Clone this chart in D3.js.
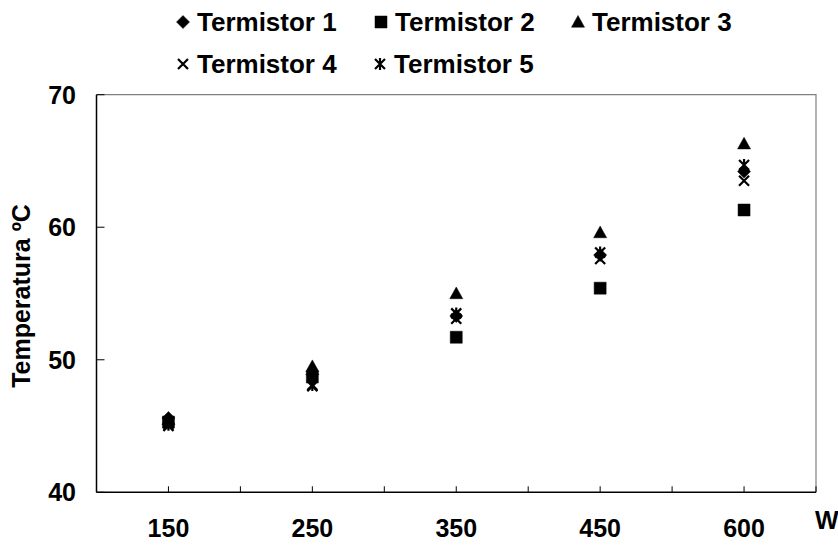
<!DOCTYPE html>
<html>
<head>
<meta charset="utf-8">
<script src="https://cdn.jsdelivr.net/npm/d3@7"></script>
<style>
  body { margin: 0; background: #fff; }
  text { font-family: "Liberation Sans", Arial, sans-serif; font-weight: bold; fill: #000; }
</style>
</head>
<body>
<div id="chart"></div>
<script>
// categories (W) sit on every other minor tick of the axis
var categories = ["150", "250", "350", "450", "600"];
var catPos = [1, 3, 5, 7, 9];
var yTicks = [40, 50, 60, 70];

var termistor1 = [45.6, 48.9, 53.3, 57.9, 64.2];
var termistor2 = [45.3, 48.7, 51.7, 55.4, 61.3];
var termistor3 = [45.5, 49.5, 55.0, 59.6, 66.3];
var termistor4 = [45.0, 48.0, 53.1, 57.6, 63.5];
var termistor5 = [45.1, 48.1, 53.5, 58.1, 64.7];

var seriesNames = ["Termistor 1", "Termistor 2", "Termistor 3", "Termistor 4", "Termistor 5"];
var seriesVals = [termistor1, termistor2, termistor3, termistor4, termistor5];
var seriesMark = ["diamond", "square", "triangle", "times", "asterisk"];

var width = 838, height = 548;
var plotL = 96.5, plotR = 816, plotT = 94.7, plotB = 492.3;

var svg = d3.select("#chart").append("svg")
  .attr("width", width)
  .attr("height", height);

var x = d3.scaleLinear().domain([0, 10]).range([plotL, plotR]);
var y = d3.scaleLinear().domain([40, 70]).range([plotB, plotT]);

function marker(type) {
  var s;
  switch (type) {
    case "diamond":  s = 6.5; return `M0,${-s}L${s},0L0,${s}L${-s},0Z`;
    case "square":   s = 6;   return `M${-s},${-s}H${s}V${s}H${-s}Z`;
    case "triangle": s = 6.5; return `M0,${-s}L${s},${s*0.8}H${-s}Z`;
    case "times":    s = 5;   return `M${-s},${-s}L${s},${s}M${-s},${s}L${s},${-s}`;
    case "asterisk": s = 5;   return `M${-s},${-s}L${s},${s}M${-s},${s}L${s},${-s}M0,${-s-1}V${s+1}`;
  }
}
function isStroke(type) { return type === "times" || type === "asterisk"; }

// plot area border (grey) and axes (black)
svg.append("path")
  .attr("d", `M${plotL},${plotT}H${plotR}V${plotB}`)
  .attr("fill", "none")
  .attr("stroke", "#808080")
  .attr("stroke-width", 1.2);

svg.append("line")
  .attr("x1", plotL).attr("x2", plotL)
  .attr("y1", plotT).attr("y2", plotB)
  .attr("stroke", "#000").attr("stroke-width", 1.5);

svg.append("line")
  .attr("x1", plotL).attr("x2", plotR)
  .attr("y1", plotB).attr("y2", plotB)
  .attr("stroke", "#000").attr("stroke-width", 1.5);

// y ticks, pointing into the plot
svg.selectAll(".ytick")
  .data(yTicks)
  .enter().append("line")
  .attr("x1", plotL).attr("x2", plotL + 8)
  .attr("y1", d => y(d)).attr("y2", d => y(d))
  .attr("stroke", "#000").attr("stroke-width", 1);

svg.selectAll(".ylab")
  .data(yTicks)
  .enter().append("text")
  .attr("x", 76)
  .attr("y", d => y(d))
  .attr("dy", "0.36em")
  .attr("text-anchor", "end")
  .style("font-size", "25px")
  .text(d => d);

// x ticks
svg.selectAll(".xtick")
  .data(d3.range(1, 11))
  .enter().append("line")
  .attr("x1", d => x(d)).attr("x2", d => x(d))
  .attr("y1", plotB).attr("y2", plotB - 6)
  .attr("stroke", "#000").attr("stroke-width", 1);

svg.selectAll(".xlab")
  .data(categories)
  .enter().append("text")
  .attr("x", (d, i) => x(catPos[i]))
  .attr("y", 528)
  .attr("dy", "0.36em")
  .attr("text-anchor", "middle")
  .style("font-size", "25px")
  .text(d => d);

svg.append("text")
  .attr("x", 815)
  .attr("y", 529)
  .style("font-size", "25px")
  .text("W");

svg.append("text")
  .attr("transform", "translate(30,296) rotate(-90)")
  .attr("text-anchor", "middle")
  .style("font-size", "25px")
  .text("Temperatura ºC");

// points
seriesVals.forEach(function(vals, si) {
  var t = seriesMark[si];
  svg.append("g").selectAll("path")
    .data(vals)
    .enter().append("path")
    .attr("transform", (d, i) => `translate(${x(catPos[i])},${y(d)})`)
    .attr("d", marker(t))
    .attr("fill", isStroke(t) ? "none" : "#000")
    .attr("stroke", "#000")
    .attr("stroke-width", isStroke(t) ? 2.2 : 0.5);
});

// legend
var legendPos = [[183, 22], [381, 22], [578, 22], [183, 64], [380, 64]];
var legend = svg.selectAll(".legend")
  .data(seriesNames)
  .enter().append("g")
  .attr("transform", (d, i) => `translate(${legendPos[i][0]},${legendPos[i][1]})`);

legend.append("path")
  .attr("d", (d, i) => marker(seriesMark[i]))
  .attr("fill", (d, i) => isStroke(seriesMark[i]) ? "none" : "#000")
  .attr("stroke", "#000")
  .attr("stroke-width", (d, i) => isStroke(seriesMark[i]) ? 2.2 : 0.5);

legend.append("text")
  .attr("x", 14)
  .attr("dy", "0.36em")
  .style("font-size", "26px")
  .text(d => d);
</script>
</body>
</html>
